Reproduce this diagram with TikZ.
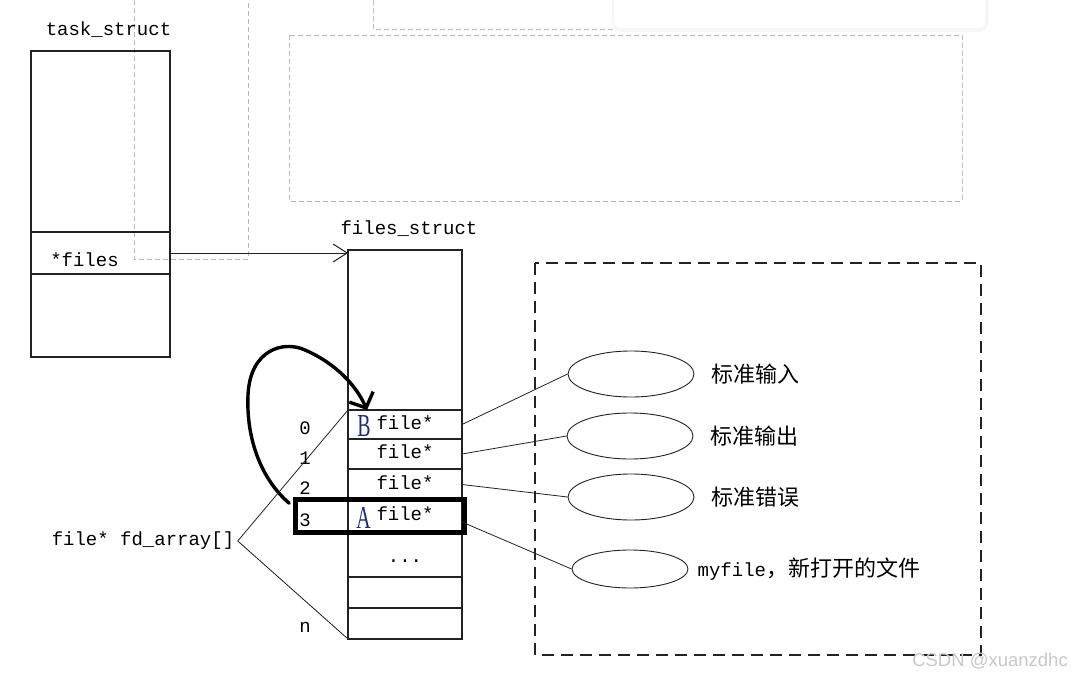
\documentclass[tikz,border=0pt]{standalone}
\usepackage{fontspec}
\setmonofont{Liberation Mono}
\newfontfamily\cjk{Noto Sans CJK SC}
\newfontfamily\wmfont{Liberation Sans}
\newfontfamily\markfont{Liberation Serif}
\usetikzlibrary{arrows.meta,shapes.geometric,positioning}
\definecolor{boxline}{RGB}{34,34,34}
\definecolor{ghostgray}{RGB}{185,185,185}
\definecolor{markblue}{RGB}{25,45,120}
\definecolor{wmgray}{RGB}{200,200,200}

\begin{document}
\begin{tikzpicture}[x=1pt,y=-1pt,
  mono/.style={font=\ttfamily\fontsize{19}{22}\selectfont},
  tcell/.style={draw=boxline,line width=1.1pt,minimum width=139pt,inner sep=0pt,outer sep=0pt},
  fcell/.style={draw=boxline,line width=1.1pt,minimum width=114pt,inner sep=0pt,outer sep=0pt,mono,text height=12pt,text depth=3pt},
  letter/.style={inner sep=0pt,text=markblue,font=\markfont\fontsize{32}{32}\selectfont},
  slot/.style={ellipse,draw=boxline,line width=0.9pt,minimum width=126pt,minimum height=46pt,inner sep=0pt},
  cn/.style={font=\cjk\fontsize{22}{24}\selectfont,inner sep=0pt},
  thinline/.style={draw=boxline,line width=0.8pt},
  handpen/.style={line width=3.4pt,line cap=round,line join=round},
  dashframe/.style={draw=boxline,line width=1.1pt,dash pattern=on 12pt off 7pt},
  ghostline/.style={draw=ghostgray,line width=0.8pt,dash pattern=on 5pt off 3pt}]
  \useasboundingbox (0,0) rectangle (1071,677);
  % leftovers of the screenshot
  \draw[ghostline] (134,0) -- (134,259) -- (248,259) -- (248,0);
  \draw[ghostline] (373,0) -- (373,29) -- (620,29);
  \draw[ghostline] (289,35) rectangle (962,201);
  \draw[gray!7,line width=4pt,rounded corners=9pt] (614,-20) rectangle (987,30);
  \fill[white,rounded corners=8pt] (614,-20) rectangle (985,28);
  % task_struct
  \node[tcell,minimum height=181pt] (ts_top) at (100.5,141.5) {};
  \node[tcell,minimum height=42pt,below=0pt of ts_top] (ts_files) {};
  \node[tcell,minimum height=83pt,below=0pt of ts_files] (ts_rest) {};
  \node[mono,above=10pt of ts_top,xshift=8pt] (ts_name) {task\_struct};
  \node[mono] (files_lbl) at ([xshift=-16pt,yshift=-7pt]ts_files.center) {*files};
  % files_struct
  \node[fcell,minimum height=160pt] (fs_top) at (405,330) {};
  \node[mono,above=10pt of fs_top,xshift=4pt] (fs_name) {files\_struct};
  \node[fcell,minimum height=29pt,below=0pt of fs_top] (fs0) {file*};
  \node[fcell,minimum height=30pt,below=0pt of fs0] (fs1) {file*};
  \node[fcell,minimum height=31pt,below=0pt of fs1] (fs2) {file*};
  \node[fcell,minimum height=32pt,below=0pt of fs2] (fs3) {file*};
  \node[fcell,minimum height=45pt,text height=16pt,text depth=0pt,below=0pt of fs3] (fs4) {...};
  \node[fcell,minimum height=31pt,below=0pt of fs4] (fs5) {};
  \node[fcell,minimum height=31pt,below=0pt of fs5] (fs6) {};
  \draw[thinline,line width=1pt,-{Straight Barb[length=14pt,width=18pt]}]
    (ts_files.east) -- ([yshift=-3pt]fs_top.north west);
  % hand marks
  \node[letter] (mk_b) at ([xshift=16pt,yshift=-1.5pt]fs0.west) {\scalebox{0.62}[1]{B}};
  \node[letter] (mk_a) at ([xshift=15.5pt,yshift=-2pt]fs3.west) {\scalebox{0.62}[1]{A}};
  \node[draw,line width=4.5pt,minimum width=169pt,minimum height=33pt,inner sep=0pt] (hl) at (380,516) {};
  \draw[handpen,-{Straight Barb[length=12pt,width=26pt]}]
    ([shift={(-4pt,-6pt)}]hl.north west) .. controls (262,480) and (246,440) .. (248,395)
    .. controls (250,350) and (283,340) .. (305,350)
    .. controls (335,363) and (356,385) .. ([xshift=19pt]fs0.north west);
  % indices
  \foreach \row/\idx in {fs0/0,fs1/1,fs2/2,fs3/3,fs6/n}
    \node[mono] (idx\idx) at ([xshift=-43pt,yshift=-4pt]\row.west) {\idx};
  \node[mono] (fdarr) at (143,541) {file* fd\_array[]};
  \draw[thinline] (fdarr.east) -- (fs0.north west);
  \draw[thinline] (fdarr.east) -- (fs6.south west);
  % opened files
  \draw[dashframe] (535,263) rectangle (981,655);
  \node[slot] (e1) at (631,374) {};
  \node[slot] (e2) at (630,436) {};
  \node[slot] (e3) at (631,497) {};
  \node[slot,minimum width=116pt,minimum height=38pt] (e4) at (630,569) {};
  \node[cn,right=17pt of e1] (lb1) {标准输入};
  \node[cn,right=17pt of e2] (lb2) {标准输出};
  \node[cn,right=17pt of e3] (lb3) {标准错误};
  \node[cn,right=9pt of e4] (lb4) {{\ttfamily\fontsize{19}{22}\selectfont myfile}，新打开的文件};
  \draw[thinline] (fs0.east) -- (e1.west);
  \draw[thinline] (fs1.east) -- (e2.west);
  \draw[thinline] (fs2.east) -- (e3.west);
  \draw[thinline] ([yshift=-6pt]fs3.east) -- (e4.west);
  \node[font=\wmfont\fontsize{18.5}{19}\selectfont,text=wmgray,anchor=east,inner sep=0pt] (wm) at (1068,661) {CSDN @xuanzdhc};
\end{tikzpicture}
\end{document}
